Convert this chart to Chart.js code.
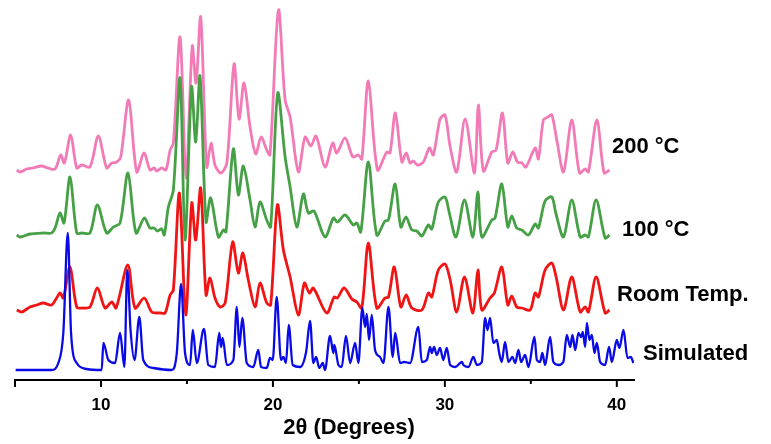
<!DOCTYPE html>
<html>
<head>
<meta charset="utf-8">
<script src="https://cdn.jsdelivr.net/npm/chart.js@4.4.1/dist/chart.umd.min.js"></script>
<style>
  html, body { margin: 0; padding: 0; background: #fff; }
  canvas { display: block; }
</style>
</head>
<body>
<canvas id="xrd" width="771" height="444"></canvas>
<script>
// 2-theta positions (degrees) and intensities (a.u., relative to each trace baseline)
const pinkTheta = [5.10,5.29,5.68,6.05,6.55,6.92,7.33,7.66,7.87,8.24,8.59,8.88,9.36,9.85,10.33,10.63,10.92,11.15,11.61,12.08,
  12.50,12.85,13.09,13.24,13.53,13.78,14.02,14.21,14.60,14.95,15.31,15.53,15.80,16.15,16.40,16.63,16.97,17.32,17.74,18.03,
  18.32,18.67,19.00,19.31,19.64,19.83,20.32,20.71,21.00,21.48,21.87,22.20,22.51,23.03,23.48,23.71,24.20,24.65,24.97,25.17,
  25.55,26.08,26.62,26.81,27.12,27.50,27.75,27.98,28.17,28.40,28.75,29.10,29.33,29.72,30.01,30.31,30.69,31.18,31.72,31.95,
  32.24,32.73,32.98,33.35,33.66,33.95,34.22,34.48,34.71,35.25,35.44,35.73,35.99,36.22,36.51,36.90,37.38,37.83,38.16,38.35,
  38.84,39.26,39.57];
const pinkCounts = [0,-2,1,2,4,2,1,15,7,35,2,5,3,34,2,7,8,13,70,-2,
  17,0,2,-1,2,0,20,27,133,-8,124,87,153,3,27,5,-3,7,106,51,
  87,43,16,33,20,15,160,70,53,-2,33,24,34,3,27,17,32,13,15,11,
  89,0,18,17,57,8,17,7,9,5,8,22,15,51,55,23,-2,51,-3,65,
  -1,18,20,57,7,18,8,7,3,22,11,50,53,55,30,-2,50,-3,1,-2,
  50,-3,0];

const greenTheta = [5.10,5.29,5.87,6.65,7.13,7.33,7.62,7.85,8.20,8.59,8.88,9.36,9.79,10.33,10.72,11.11,11.57,12.04,12.52,12.85,
  13.09,13.28,13.53,13.68,13.92,14.21,14.60,14.89,15.27,15.51,15.76,16.11,16.38,16.83,17.12,17.27,17.70,17.99,18.28,18.67,
  18.96,19.25,19.64,19.87,20.28,20.71,21.00,21.39,21.77,22.06,22.39,23.03,23.52,23.75,24.20,24.68,24.88,25.11,25.55,26.04,
  26.52,26.72,27.11,27.44,27.74,28.08,28.37,28.66,29.04,29.24,29.62,30.01,30.26,30.65,31.14,31.63,31.92,32.15,32.73,32.92,
  33.31,33.66,33.89,34.18,34.48,34.86,35.25,35.44,35.83,36.22,36.45,36.90,37.38,37.87,38.16,38.35,38.80,39.32,39.57];
const greenCounts = [0,-2,1,2,2,7,22,12,58,2,2,2,30,2,8,12,62,2,17,7,
  7,4,6,0,28,45,157,-5,148,93,159,13,37,-2,5,3,86,40,69,35,
  8,33,15,8,142,78,48,8,41,22,24,-2,17,13,20,10,12,3,73,0,
  14,15,51,8,18,5,4,-1,10,6,33,38,22,-2,35,-2,43,-2,15,17,
  51,8,19,7,5,0,11,7,34,38,22,-2,35,-2,0,-2,35,-3,0];

const redTheta = [5.10,5.39,5.87,6.26,6.65,7.13,7.42,7.62,7.81,8.20,8.59,8.97,9.36,9.79,10.24,10.63,10.88,11.56,11.98,12.52,
  12.95,13.44,13.73,14.02,14.21,14.56,14.93,15.28,15.51,15.80,16.11,16.34,16.63,16.93,17.22,17.66,17.99,18.25,18.57,18.96,
  19.25,19.64,19.87,20.26,20.61,21.00,21.48,21.83,22.12,22.35,23.13,23.56,23.75,24.14,24.59,24.88,25.17,25.55,26.04,26.52,
  26.72,27.06,27.44,27.75,28.08,28.66,29.04,29.24,29.62,30.01,30.31,30.69,31.14,31.63,31.92,32.15,32.63,32.88,33.31,33.66,
  33.89,34.18,34.48,34.96,35.25,35.44,35.83,36.22,36.47,36.90,37.38,37.87,38.16,38.35,38.80,39.32,39.57];
const redCounts = [0,-2,3,5,7,5,12,17,12,43,3,2,3,22,2,8,2,45,2,12,
  -2,-3,-3,15,20,117,-5,107,70,122,15,32,12,3,7,68,37,57,30,3,
  27,7,5,105,60,33,-5,27,17,22,-3,13,12,22,11,8,2,67,2,12,
  13,43,3,15,2,0,17,13,40,46,30,-2,33,-3,40,0,12,17,43,5,
  14,3,2,0,17,13,40,47,33,0,33,-2,3,-2,33,-3,0];

const simTheta = [5.04,7.13,7.52,7.81,8.07,8.26,8.59,9.17,10.04,10.14,10.43,10.82,11.11,11.36,11.53,11.72,11.95,12.23,12.46,13.05,
  14.11,14.41,14.66,14.89,15.18,15.34,15.57,15.99,16.24,16.63,16.88,16.98,17.08,17.32,17.70,17.90,18.05,18.22,18.48,18.86,
  19.15,19.31,19.64,19.83,19.99,20.22,20.47,20.61,20.76,20.92,21.15,21.58,21.93,22.16,22.35,22.51,22.70,22.90,23.03,23.32,
  23.52,23.57,23.81,24.00,24.25,24.49,24.78,24.97,25.20,25.36,25.46,25.59,25.75,25.94,26.23,26.43,26.72,26.97,27.11,27.40,
  27.63,27.98,28.46,28.66,28.95,29.14,29.24,29.37,29.53,29.72,29.91,30.11,30.31,30.60,30.89,30.99,31.08,31.37,31.66,31.86,
  32.15,32.34,32.48,32.63,32.82,33.02,33.16,33.31,33.50,33.70,33.93,34.09,34.28,34.43,34.67,34.86,35.21,35.35,35.54,35.67,
  35.83,36.12,36.31,36.61,36.89,37.09,37.29,37.42,37.58,37.77,37.93,38.02,38.16,38.26,38.41,38.55,38.70,38.84,39.03,39.32,
  39.55,39.71,40.00,40.15,40.39,40.62,40.81,40.97];
const simCounts = [0,0,7,37,137,37,7,1,0,27,10,7,37,3,100,40,10,53,10,2,
  0,17,86,17,5,40,7,41,5,3,37,23,32,5,10,63,23,52,7,3,
  20,3,2,12,10,73,10,13,7,45,5,3,18,49,7,13,2,7,0,34,
  17,25,5,3,34,7,27,7,62,43,56,30,55,20,13,7,63,13,37,7,
  8,7,43,8,10,23,17,23,15,22,10,22,5,3,7,8,5,3,13,5,
  8,52,40,52,27,30,17,8,28,8,13,7,20,8,15,3,33,10,8,17,
  5,33,8,5,8,35,23,35,20,37,33,38,23,47,30,35,17,27,8,5,
  23,8,30,22,40,12,13,7];

// stacking offsets: Simulated, Room Temp., 100 C, 200 C
const traceOffsets = [10, 70, 145, 210];
const traceNames = ['Simulated', 'Room Temp.', '100 °C', '200 °C'];
const traceColors = ['#0a0ae6', '#f01414', '#46a046', '#f27bb7'];

const tickValues = [5, 10, 15, 20, 25, 30, 35, 40];
const minorTicks = [15, 25, 35];
const tickLabels = [10, 20, 30, 40];
const axisTitle = '2\u03B8 (Degrees)';

function toPoints(theta, counts, offset) {
    return theta.map((t, i) => ({ x: t, y: counts[i] + offset }));
}

const series = [
    [simTheta, simCounts],
    [redTheta, redCounts],
    [greenTheta, greenCounts],
    [pinkTheta, pinkCounts]
];

const datasets = series.map((s, i) => ({
    label: traceNames[i],
    data: toPoints(s[0], s[1], traceOffsets[i]),
    borderColor: traceColors[i],
    borderWidth: i === 0 ? 2.3 : 2.8,
    pointRadius: 0,
    fill: false,
    // measured patterns are smooth, simulated one is sharp
    tension: i === 0 ? 0 : 0.3,
    cubicInterpolationMode: i === 0 ? 'monotone' : 'default'
}));

// label positions for the trace names (canvas px)
const namePos = [[643, 360], [617, 301], [622, 236], [612, 153]];

const axisMarks = {
    id: 'axisMarks',
    afterDraw(chart) {
        const ctx = chart.ctx;
        const xs = chart.scales.x;
        const y0 = xs.top;
        ctx.save();
        ctx.strokeStyle = '#000';
        ctx.lineWidth = 2;
        tickValues.forEach(v => {
            const px = xs.getPixelForValue(v);
            const len = minorTicks.includes(v) ? 4 : 7;
            ctx.beginPath();
            ctx.moveTo(px, y0);
            ctx.lineTo(px, y0 + len);
            ctx.stroke();
        });
        ctx.fillStyle = '#000';
        ctx.textBaseline = 'alphabetic';
        ctx.textAlign = 'center';
        ctx.font = 'bold 22px "Liberation Sans", Arial, sans-serif';
        ctx.fillText(axisTitle, 349, 434);
        ctx.textAlign = 'left';
        ctx.font = 'bold 22px "Liberation Sans", Arial, sans-serif';
        traceNames.forEach((name, i) => ctx.fillText(name, namePos[i][0], namePos[i][1]));
        ctx.restore();
    }
};

new Chart(document.getElementById('xrd'), {
    type: 'line',
    data: { datasets },
    options: {
        responsive: false,
        animation: false,
        devicePixelRatio: 1,
        layout: { padding: { left: 15, right: 137, top: 0, bottom: 0 } },
        plugins: { legend: { display: false }, tooltip: { enabled: false } },
        scales: {
            x: {
                type: 'linear',
                min: 5,
                max: 41,
                afterBuildTicks: scale => { scale.ticks = tickValues.map(v => ({ value: v })); },
                afterFit: scale => { scale.height = 64; },
                grid: { display: false, drawTicks: false },
                border: { display: true, color: '#000', width: 2 },
                ticks: {
                    autoSkip: false,
                    maxRotation: 0,
                    padding: 15,
                    color: '#000',
                    font: { family: '"Liberation Sans", Arial, sans-serif', size: 17, weight: 'bold' },
                    callback: v => tickLabels.includes(v) ? String(v) : ''
                }
            },
            y: { display: false, min: 0, max: 380 }
        }
    },
    plugins: [axisMarks]
});
</script>
</body>
</html>
